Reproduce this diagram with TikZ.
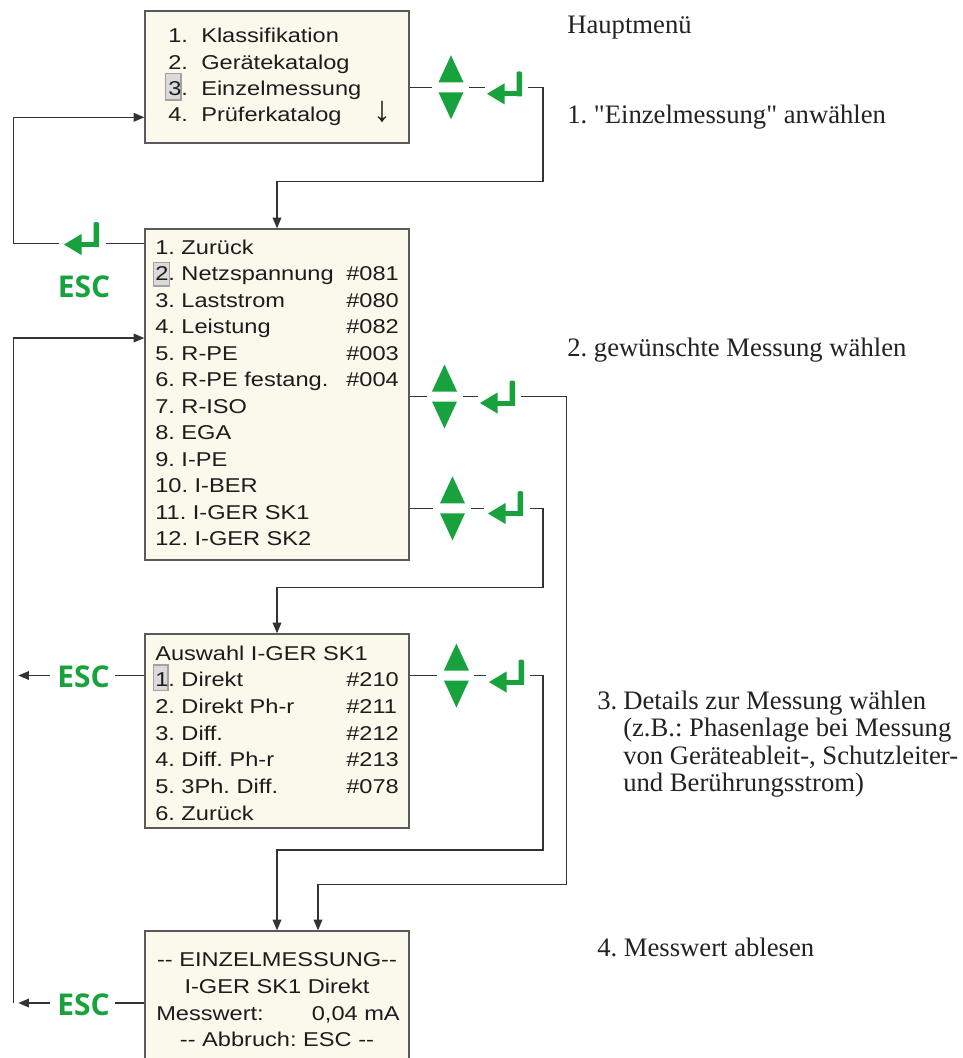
\documentclass[tikz,border=0pt]{standalone}
\usepackage{fontspec}
\setmainfont{Liberation Serif}[Ligatures=TeXOff]
\newfontfamily\boxfont[FakeStretch=1.18]{Liberation Sans}
\newfontfamily\escfont{Open Sans}
\usetikzlibrary{arrows.meta}
\definecolor{boxfill}{HTML}{FBF9EC}
\definecolor{boxline}{HTML}{5A5A5A}
\definecolor{keygreen}{RGB}{24,162,62}
\definecolor{conncol}{HTML}{333333}
\definecolor{hlfill}{HTML}{DADADA}
\definecolor{hlline}{HTML}{A2A2A2}
\definecolor{textcol}{HTML}{1C1C1C}
\definecolor{notecol}{HTML}{222222}
\frenchspacing
\begin{document}
\begin{tikzpicture}[x=0.75pt,y=-0.75pt,
  menubox/.style={draw=boxline, fill=boxfill, line width=1pt, inner sep=0, rectangle},
  hl/.style={draw=hlline, fill=hlfill, line width=0.8pt},
  boxtxt/.style={inner sep=0, anchor=base west, text=textcol, font=\boxfont\fontsize{15}{18}\selectfont},
  esctxt/.style={inner sep=0, text=keygreen, font=\escfont\bfseries\fontsize{22.5}{24}\selectfont},
  note/.style={inner sep=0, anchor=base west, text=notecol, font=\fontsize{20}{24}\selectfont},
  conn/.style={draw=conncol, line width=1pt},
  arr/.style={conn, -{Triangle[length=8pt,width=6.5pt]}},
  updown/.pic={
    \fill[keygreen] (-12.5,-5) -- (12.5,-5) -- (0,-32) -- cycle;
    \fill[keygreen] (-12.5,5) -- (12.5,5) -- (0,32) -- cycle;
  },
  enterkey/.pic={
    \fill[keygreen] (0,0) -- (17.5,-10.5) -- (17.5,10.5) -- cycle;
    \fill[keygreen] (16,-2.5) rectangle (35,2.5);
    \fill[keygreen] (29.5,2.5) -- (29.5,-21) arc[start angle=180,end angle=0,x radius=2.75,y radius=-1.5] -- (35,2.5) -- cycle;
  }
]
\useasboundingbox (0,0) rectangle (963,1058);

% ---------- boxes ----------
\node[menubox, minimum width=198pt, minimum height=99pt]    (m1) at (277,77) {};
\node[menubox, minimum width=198pt, minimum height=248.25pt] (m2) at (277,394.5) {};
\node[menubox, minimum width=198pt, minimum height=145.5pt] (m3) at (277,731) {};
\node[menubox, minimum width=198pt, minimum height=108pt]   (m4) at (277,1003) {};

% highlights
\draw[hl] (165.7,73.3) rectangle (181,100);
\draw[hl] (153.6,262.7) rectangle (169.6,286);
\draw[hl] (153.6,665) rectangle (168,690.7);

% ---------- box 1 ----------
\foreach \i/\lab in {1/Klassifikation,2/Gerätekatalog,3/Einzelmessung,4/Prüferkatalog}{
  \node[boxtxt] (a\i) at (168,{42.7+26.3*(\i-1)}) {\i.};
  \node[boxtxt] (al\i) at (201,{42.7+26.3*(\i-1)}) {\lab};
}
\node[inner sep=0, text=textcol, font=\fontsize{27}{27}\selectfont] (down) at (382,112) {↓};

% ---------- box 2 ----------
\foreach \i/\lab in {1/1. Zurück,2/2. Netzspannung,3/3. Laststrom,4/4. Leistung,5/5. R-PE,6/6. R-PE festang.,7/7. R-ISO,8/8. EGA,9/9. I-PE,10/10. I-BER,11/11. I-GER SK1,12/12. I-GER SK2}{
  \node[boxtxt] (b\i) at (155,{254+26.5*(\i-1)}) {\lab};
}
\foreach \i/\code in {2/\#081,3/\#080,4/\#082,5/\#003,6/\#004}{
  \node[boxtxt] (bc\i) at (346,{254+26.5*(\i-1)}) {\code};
}

% ---------- box 3 ----------
\foreach \i/\lab in {0/Auswahl I-GER SK1,1/1. Direkt,2/2. Direkt Ph-r,3/3. Diff.,4/4. Diff. Ph-r,5/5. 3Ph. Diff.,6/6. Zurück}{
  \node[boxtxt] (c\i) at (155,{660+26.7*\i}) {\lab};
}
\foreach \i/\code in {1/\#210,2/\#211,3/\#212,4/\#213,5/\#078}{
  \node[boxtxt] (cc\i) at (346,{660+26.7*\i}) {\code};
}

% ---------- box 4 ----------
\node[boxtxt, anchor=base] (d1) at (277,966.7) {-{}- EINZELMESSUNG-{}-};
\node[boxtxt, anchor=base] (d2) at (277,993.4) {I-GER SK1 Direkt};
\node[boxtxt] (d3a) at (156,1020) {Messwert:};
\node[boxtxt, anchor=base east] (d3b) at (400,1020) {0,04 mA};
\node[boxtxt, anchor=base] (d4) at (277,1046.7) {-{}- Abbruch: ESC -{}-};

% ---------- notes ----------
\node[note] (n0) at (567,33) {Hauptmenü};
\node[note] (n1) at (567,123) {1. "Einzelmessung" anwählen};
\node[note] (n2) at (567,356) {2. gewünschte Messung wählen};
\node[note] (n3) at (597,709) {3.};
\node[note] (n3a) at (623,709) {Details zur Messung wählen};
\node[note] (n3b) at (623,736.6) {(z.B.: Phasenlage bei Messung};
\node[note] (n3c) at (623,764.2) {von Geräteableit-, Schutzleiter-};
\node[note] (n3d) at (623,791.7) {und Berührungsstrom)};
\node[note] (n4) at (597,956.7) {4. Messwert ablesen};

% ---------- keys ----------
\coordinate (ud1) at (451,87.3);   \pic at (ud1) {updown};
\coordinate (en1) at (487,93.8);   \pic at (en1) {enterkey};
\coordinate (ud2) at (444.5,396.5); \pic at (ud2) {updown};
\coordinate (en2) at (480,403);    \pic at (en2) {enterkey};
\coordinate (ud3) at (452.5,508.3); \pic at (ud3) {updown};
\coordinate (en3) at (488,513.5);  \pic at (en3) {enterkey};
\coordinate (ud4) at (456.4,675.5); \pic at (ud4) {updown};
\coordinate (en4) at (489,682);    \pic at (en4) {enterkey};
\coordinate (en0) at (64,244.5);   \pic at (en0) {enterkey};

\node[esctxt] (esc2) at (84,287) {ESC};
\node[esctxt] (esc3) at (83.5,676.5) {ESC};
\node[esctxt] (esc4) at (83.5,1004.5) {ESC};

% ---------- right connectors ----------
% box1 -> box2
\draw[conn] (m1.east |- ud1) -- (432,87.3);
\draw[conn] (469,87.3) -- (485,87.3);
\draw[arr] (528,87.3) -- (543,87.3) -- (543,181.7) -| (m2.north);
% box2 (row 6) -> box4
\draw[conn] (m2.east |- ud2) -- (427,396.5);
\draw[conn] (463,396.5) -- (478,396.5);
\draw[arr] (521,396.5) -- (566.7,396.5) -- (566.7,884.7) -| ([xshift=30.75pt]m4.north);
% box2 (row 11) -> box3
\draw[conn] (m2.east |- ud3) -- (433,508.3);
\draw[conn] (471,508.3) -- (484,508.3);
\draw[arr] (530,508.3) -- (543,508.3) -- (543,587.3) -| (m3.north);
% box3 -> box4
\draw[conn] (m3.east |- ud4) -- (437,675.5);
\draw[conn] (474,675.5) -- (486,675.5);
\draw[arr] (530,675.5) -- (543,675.5) -- (543,850) -| (m4.north);

% ---------- left connectors ----------
\draw[conn] (m2.west |- 0,243.3) -- (106,243.3);
\draw[arr] (59.3,243.3) -- (13.3,243.3) -- (13.3,117.3) -- (m1.west |- 0,117.3);
\draw[arr] (13.3,1003) -- (13.3,338) -- (m2.west |- 0,338);
\draw[conn] (m3.west |- 0,675.5) -- (115,675.5);
\draw[arr] (50,675.5) -- (18.3,675.5);
\draw[conn] (m4.west |- 0,1003) -- (115,1003);
\draw[arr] (50,1003) -- (18.3,1003);
\end{tikzpicture}
\end{document}
